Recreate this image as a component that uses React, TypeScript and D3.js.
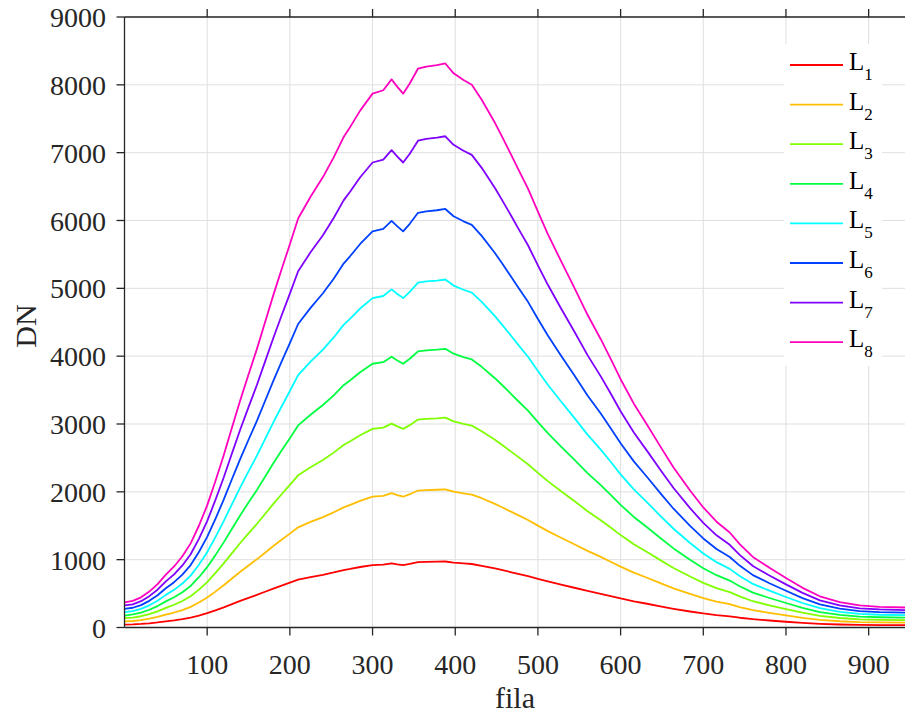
import React from 'react';
import * as d3 from 'd3';

// fila (row index) sample positions
const rows = [0,10,20,30,40,50,60,70,80,90,100,110,120,130,140,150,160,170,180,190,200,210,225,240,253,265,273,285,300,313,323,330,337,345,355,365,378,388,398,410,420,432,448,456,468,476,488,500,512,528,544,560,576,588,600,616,632,648,664,684,700,716,732,744,760,780,800,820,841,865,889,913,944];

const L1 = [43,46,52,62,75,91,105,123,145,176,211,253,297,345,392,436,480,527,573,618,661,706,743,777,811,846,863,892,921,927,945,932,921,938,964,968,970,973,956,944,936,910,870,848,814,791,757,717,679,632,586,539,497,463,428,386,350,312,276,236,207,183,164,144,122,103,85,68,54,44,38,36,35];
const L2 = [90,96,109,130,157,191,221,257,304,368,441,529,622,723,821,914,1005,1103,1201,1294,1384,1477,1556,1627,1698,1771,1808,1867,1928,1940,1980,1953,1928,1965,2019,2026,2031,2037,2002,1977,1960,1906,1823,1776,1705,1656,1585,1502,1421,1323,1227,1129,1041,970,897,809,733,654,578,495,434,382,343,301,255,216,179,143,113,92,80,75,72];
const L3 = [137,146,166,197,238,290,335,391,461,558,670,804,945,1097,1246,1388,1525,1674,1823,1964,2102,2243,2362,2470,2578,2690,2745,2835,2928,2946,3006,2965,2928,2983,3065,3076,3084,3093,3039,3002,2976,2894,2768,2697,2589,2515,2407,2280,2158,2009,1864,1715,1581,1473,1362,1228,1112,993,878,751,658,580,521,458,387,327,272,218,171,140,121,113,110];
const L4 = [176,194,220,262,316,385,445,519,613,741,889,1067,1255,1457,1655,1843,2025,2223,2421,2608,2791,2979,3137,3280,3423,3572,3646,3764,3888,3912,3992,3937,3888,3962,4071,4085,4095,4108,4036,3987,3952,3843,3675,3582,3438,3339,3196,3028,2865,2668,2475,2277,2100,1956,1808,1630,1477,1319,1166,998,874,771,692,608,514,435,361,289,227,185,161,151,146];
const L5 = [228,242,275,327,395,481,555,648,765,926,1111,1333,1567,1820,2067,2301,2530,2777,3023,3258,3486,3721,3918,4097,4276,4461,4553,4702,4856,4887,4985,4917,4856,4948,5084,5103,5115,5130,5041,4979,4936,4800,4590,4473,4294,4171,3992,3782,3579,3332,3091,2844,2622,2443,2258,2036,1845,1647,1456,1246,1092,963,864,759,642,543,450,361,284,231,201,188,182];
const L6 = [274,291,330,393,475,579,668,779,920,1113,1336,1603,1885,2189,2486,2768,3042,3339,3636,3918,4192,4474,4712,4927,5142,5365,5476,5654,5840,5877,5995,5914,5840,5951,6114,6136,6151,6170,6062,5988,5936,5773,5520,5380,5164,5016,4801,4548,4304,4007,3717,3421,3154,2938,2716,2449,2219,1981,1751,1499,1313,1158,1039,913,772,653,542,434,341,278,241,226,219];
const L7 = [326,341,388,462,557,679,784,915,1080,1307,1568,1881,2212,2569,2918,3249,3571,3920,4268,4599,4921,5252,5531,5783,6036,6297,6428,6637,6855,6898,7038,6942,6855,6985,7177,7203,7221,7242,7116,7029,6968,6776,6480,6315,6062,5888,5635,5339,5052,4703,4364,4015,3702,3449,3188,2874,2604,2326,2056,1759,1542,1359,1219,1071,906,766,636,510,401,327,283,266,257];
const L8 = [369,392,445,530,640,780,900,1050,1240,1500,1800,2160,2540,2950,3350,3730,4100,4500,4900,5280,5650,6030,6350,6640,6930,7230,7380,7620,7870,7920,8080,7970,7870,8020,8240,8270,8290,8315,8170,8070,8000,7780,7440,7250,6960,6760,6470,6130,5800,5400,5010,4610,4250,3960,3660,3300,2990,2670,2360,2020,1770,1560,1400,1230,1040,880,730,585,460,375,325,305,295];

const seriesLabels = ['1', '2', '3', '4', '5', '6', '7', '8'];
const seriesColors = ['#FF0000', '#FFBF00', '#80FF00', '#00FF40', '#00FFFF', '#0040FF', '#7F00FF', '#FF00BF'];
const seriesValues = [L1, L2, L3, L4, L5, L6, L7, L8];

const xTicks = [100, 200, 300, 400, 500, 600, 700, 800, 900];
const yTicks = [0, 1000, 2000, 3000, 4000, 5000, 6000, 7000, 8000, 9000];

const xLabel = 'fila';
const yLabel = 'DN';

export default function App() {
  const W = 905;
  const H = 715;
  const left = 124.5;
  const top = 17;
  const bottom = 627.5;
  const right = 910;
  const x = d3.scaleLinear().domain([0, 950]).range([left, right]);
  const y = d3.scaleLinear().domain([0, 9000]).range([bottom, top]);
  const axisColor = '#262626';
  const gridColor = '#dfdfdf';
  const fontStyle = { fontFamily: '"Liberation Serif", "Times New Roman", Times, serif' };

  const line = d3
    .line<[number, number]>()
    .x((d) => x(d[0]))
    .y((d) => y(d[1]));

  const legendX = 790;
  const legendY0 = 65;
  const legendStep = 39.6;

  return (
    <svg
      width={W}
      height={H}
      style={{ position: 'absolute', left: 0, top: 0, background: '#fff' }}
    >
      <rect x={0} y={0} width={W} height={H} fill="#fff" />
      {xTicks.map((t) => (
        <line key={'gx' + t} x1={x(t)} x2={x(t)} y1={top} y2={bottom} stroke={gridColor} strokeWidth={1} />
      ))}
      {yTicks.map((t) => (
        <line key={'gy' + t} x1={left} x2={right} y1={y(t)} y2={y(t)} stroke={gridColor} strokeWidth={1} />
      ))}
      {seriesValues.map((vals, i) => (
        <path
          key={'s' + i}
          d={line(rows.map((r, j) => [r, vals[j]] as [number, number])) || ''}
          fill="none"
          stroke={seriesColors[i]}
          strokeWidth={1.8}
          strokeLinejoin="round"
        />
      ))}
      <line x1={left} x2={right} y1={bottom} y2={bottom} stroke={axisColor} strokeWidth={1.3} />
      <line x1={left} x2={right} y1={top} y2={top} stroke={axisColor} strokeWidth={1.3} />
      <line x1={left} x2={left} y1={top} y2={bottom} stroke={axisColor} strokeWidth={1.3} />
      {xTicks.map((t) => (
        <g key={'xt' + t}>
          <line x1={x(t)} x2={x(t)} y1={bottom} y2={bottom + 8} stroke={axisColor} strokeWidth={1.3} />
          <line x1={x(t)} x2={x(t)} y1={top} y2={top - 8} stroke={axisColor} strokeWidth={1.3} />
          <text x={x(t)} y={674} textAnchor="middle" fontSize={28} fill={axisColor} style={fontStyle}>
            {t}
          </text>
        </g>
      ))}
      {yTicks.map((t) => (
        <g key={'yt' + t}>
          <line x1={left} x2={left - 8} y1={y(t)} y2={y(t)} stroke={axisColor} strokeWidth={1.3} />
          <text x={106} y={y(t)} dy="0.36em" textAnchor="end" fontSize={28} fill={axisColor} style={fontStyle}>
            {t}
          </text>
        </g>
      ))}
      <text x={515} y={708} textAnchor="middle" fontSize={30} fill={axisColor} style={fontStyle}>
        {xLabel}
      </text>
      <text
        transform={`translate(36, 326) rotate(-90)`}
        textAnchor="middle"
        fontSize={30}
        fill={axisColor}
        style={fontStyle}
      >
        {yLabel}
      </text>
      <rect x={784} y={44} width={98} height={322} fill="#fff" />
      {seriesLabels.map((lab, i) => {
        const ly = legendY0 + i * legendStep;
        return (
          <g key={'lg' + i}>
            <line x1={legendX} x2={843} y1={ly} y2={ly} stroke={seriesColors[i]} strokeWidth={1.8} />
            <text x={849} y={ly + 5} fontSize={25} fill="#000" style={fontStyle}>
              L
              <tspan dy={10} fontSize={17}>
                {lab}
              </tspan>
            </text>
          </g>
        );
      })}
    </svg>
  );
}
